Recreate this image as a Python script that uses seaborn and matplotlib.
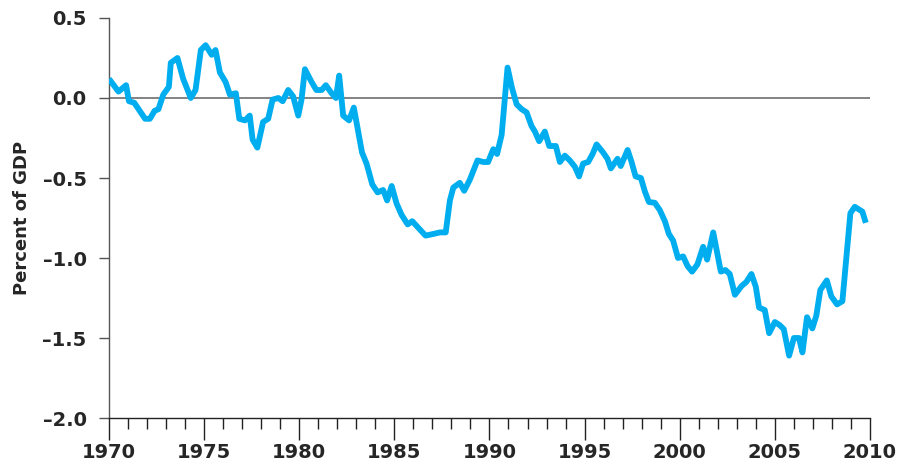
import matplotlib
matplotlib.use("Agg")
import matplotlib.pyplot as plt
from matplotlib.ticker import MultipleLocator
import pandas as pd
import seaborn as sns

# Balance as a share of GDP, quarterly turning points (decimal years)
years = [
    1970.00, 1970.50, 1970.90, 1971.05, 1971.33, 1971.90, 1972.15, 1972.40,
    1972.60, 1972.85, 1973.15, 1973.25, 1973.60, 1973.90, 1974.30, 1974.55,
    1974.83, 1975.08, 1975.40, 1975.60, 1975.83, 1976.13, 1976.36, 1976.67,
    1976.85, 1977.15, 1977.40, 1977.55, 1977.80, 1978.10, 1978.37, 1978.60,
    1978.90, 1979.13, 1979.42, 1979.68, 1979.95, 1980.12, 1980.30, 1980.65,
    1980.90, 1981.18, 1981.40, 1981.70, 1981.93, 1982.10, 1982.31, 1982.62,
    1982.87, 1983.30, 1983.54, 1983.84, 1984.12, 1984.41, 1984.62, 1984.86,
    1985.12, 1985.38, 1985.70, 1985.94, 1986.25, 1986.64, 1987.04, 1987.40,
    1987.70, 1987.92, 1988.10, 1988.44, 1988.67, 1988.97, 1989.37, 1989.67,
    1989.93, 1990.20, 1990.40, 1990.64, 1990.95, 1991.19, 1991.43, 1991.69,
    1991.95, 1992.21, 1992.39, 1992.61, 1992.91, 1993.14, 1993.49, 1993.70,
    1993.96, 1994.22, 1994.49, 1994.71, 1994.92, 1995.19, 1995.42, 1995.63,
    1995.97, 1996.20, 1996.38, 1996.73, 1996.90, 1997.26, 1997.47, 1997.68,
    1997.96, 1998.17, 1998.38, 1998.69, 1998.95, 1999.22, 1999.43, 1999.65,
    1999.91, 2000.18, 2000.41, 2000.65, 2000.93, 2001.23, 2001.44, 2001.76,
    2001.97, 2002.16, 2002.40, 2002.63, 2002.90, 2003.25, 2003.50, 2003.77,
    2004.00, 2004.17, 2004.47, 2004.70, 2005.00, 2005.26, 2005.47, 2005.75,
    2006.00, 2006.27, 2006.45, 2006.69, 2006.97, 2007.18, 2007.39, 2007.73,
    2007.97, 2008.27, 2008.55, 2008.97, 2009.20, 2009.60, 2009.78,
]
percent_of_gdp = [
    0.12, 0.04, 0.08, -0.02, -0.03, -0.13, -0.13, -0.08,
    -0.07, 0.02, 0.07, 0.22, 0.25, 0.12, 0.00, 0.05,
    0.30, 0.33, 0.27, 0.30, 0.16, 0.10, 0.02, 0.03,
    -0.13, -0.14, -0.11, -0.26, -0.31, -0.15, -0.13, -0.01,
    0.00, -0.02, 0.05, 0.01, -0.11, -0.01, 0.18, 0.10,
    0.05, 0.05, 0.08, 0.03, 0.00, 0.14, -0.11, -0.14,
    -0.06, -0.34, -0.41, -0.54, -0.59, -0.575, -0.64, -0.55,
    -0.66, -0.73, -0.79, -0.77, -0.81, -0.86, -0.85, -0.84,
    -0.84, -0.64, -0.56, -0.53, -0.58, -0.51, -0.39, -0.40,
    -0.40, -0.32, -0.35, -0.23, 0.19, 0.06, -0.04, -0.07,
    -0.09, -0.175, -0.21, -0.27, -0.21, -0.30, -0.30, -0.40,
    -0.36, -0.39, -0.43, -0.49, -0.41, -0.40, -0.35, -0.29,
    -0.34, -0.38, -0.44, -0.38, -0.425, -0.325, -0.40, -0.49,
    -0.50, -0.585, -0.65, -0.655, -0.70, -0.77, -0.85, -0.89,
    -1.00, -0.99, -1.05, -1.085, -1.04, -0.93, -1.01, -0.84,
    -0.97, -1.085, -1.075, -1.10, -1.23, -1.175, -1.15, -1.10,
    -1.18, -1.31, -1.325, -1.47, -1.40, -1.42, -1.445, -1.61,
    -1.50, -1.50, -1.59, -1.37, -1.44, -1.36, -1.20, -1.14,
    -1.24, -1.29, -1.27, -0.72, -0.68, -0.71, -0.78,
]

x_ticks = [1970, 1975, 1980, 1985, 1990, 1995, 2000, 2005, 2010]
y_ticks = [0.5, 0.0, -0.5, -1.0, -1.5, -2.0]
y_label = "Percent of GDP"

df = pd.DataFrame({"year": years, "value": percent_of_gdp})

sns.set_theme(style="ticks")
plt.rcParams["font.family"] = ["DejaVu Sans"]
plt.rcParams["font.weight"] = "bold"

fig = plt.figure(figsize=(9.02, 4.71), dpi=100)
ax = fig.add_axes([0.1208, 0.1125, 0.8437, 0.8493])

ax.axhline(0, color="#7a7a7a", lw=1.3, zorder=1)
sns.lineplot(data=df, x="year", y="value", ax=ax, color="#00aeef",
             lw=4.2, solid_joinstyle="round", solid_capstyle="butt", zorder=3)

ax.set_xlim(1970, 2010)
ax.set_ylim(-2.0, 0.5)
ax.set_xticks(x_ticks)
ax.set_xticklabels([str(t) for t in x_ticks])
ax.xaxis.set_minor_locator(MultipleLocator(1))
ax.set_yticks(y_ticks)
ax.set_yticklabels([f"{t:.1f}".replace("-", "\u2013") for t in y_ticks])

ax.set_xlabel("")
ax.set_ylabel(y_label, fontsize=13, fontweight="bold", labelpad=8)

for side in ("top", "right"):
    ax.spines[side].set_visible(False)
ax.spines["left"].set_color("#555555")
ax.spines["left"].set_linewidth(1.0)
ax.spines["bottom"].set_color("#222222")
ax.spines["bottom"].set_linewidth(1.0)

ax.tick_params(axis="x", which="major", direction="out", length=16, width=1.0,
               color="#222222", pad=2, labelsize=14)
ax.tick_params(axis="x", which="minor", direction="out", length=8, width=1.0,
               color="#222222")
ax.tick_params(axis="y", which="major", direction="out", length=7, width=1.0,
               color="#555555", pad=9, labelsize=14)
for lbl in ax.get_xticklabels() + ax.get_yticklabels():
    lbl.set_fontweight("bold")

fig.savefig("out.png", dpi=100)
